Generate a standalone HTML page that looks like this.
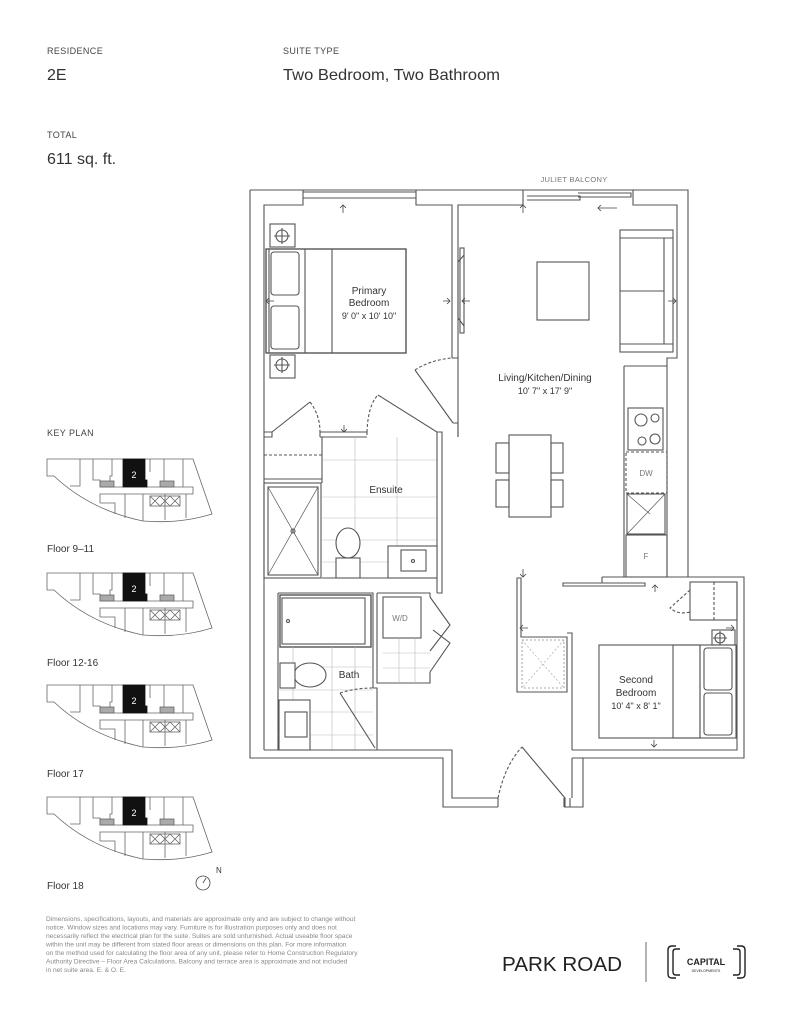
<!DOCTYPE html>
<html><head><meta charset="utf-8"><style>
html,body{margin:0;padding:0;background:#fff;}
svg{display:block;}
text{font-family:"Liberation Sans",sans-serif;}
</style></head><body>
<svg width="791" height="1024" viewBox="0 0 791 1024" xmlns="http://www.w3.org/2000/svg">
<rect width="791" height="1024" fill="#fff"/>
<!-- header -->
<g fill="#333">
<text x="47" y="54" font-size="9" letter-spacing="0.4" fill="#444">RESIDENCE</text>
<text x="47" y="80" font-size="16">2E</text>
<text x="283" y="54" font-size="9" letter-spacing="0.4" fill="#444">SUITE TYPE</text>
<text x="283" y="80" font-size="16" textLength="217" lengthAdjust="spacingAndGlyphs">Two Bedroom, Two Bathroom</text>
<text x="47" y="138" font-size="9" letter-spacing="0.4" fill="#444">TOTAL</text>
<text x="47" y="164" font-size="16">611 sq. ft.</text>
<text x="47" y="436" font-size="9" letter-spacing="0.4" fill="#444">KEY PLAN</text>
<text x="47" y="552" font-size="10">Floor 9–11</text>
<text x="47" y="666" font-size="10">Floor 12-16</text>
<text x="47" y="777" font-size="10">Floor 17</text>
<text x="47" y="889" font-size="10">Floor 18</text>
<text x="574" y="182" font-size="7.5" text-anchor="middle" fill="#777" letter-spacing="0.3">JULIET BALCONY</text>
</g>

<!-- key plans -->
<defs>
<g id="kp" fill="none" stroke="#666" stroke-width="0.8">
<path d="M47 459 L193 459 L212 514 Q180 524 143 521 Q90 510 54 476 L47 476 Z"/>
<path d="M80 459 L80 486 L70 486"/>
<path d="M93 459 L93 480 L100 480 L100 487 L193 487 L193 494 L100 494 L100 503"/>
<path d="M110 487 L110 476 L112 476 L112 459"/>
<path d="M164 459 L164 487 M183 459 L183 487 M150 459 L150 472"/>
<path d="M143 494 L143 521 M165 494 L165 520 M186 494 L186 518"/>
<path d="M125 494 L125 518 M100 503 L115 503 L115 514"/>
<rect x="150" y="496" width="30" height="10"/>
<path d="M150 496 L160 506 M160 496 L150 506 M160 496 L170 506 M170 496 L160 506 M170 496 L180 506 M180 496 L170 506"/>
<rect x="100" y="481" width="14" height="6" fill="#aaa"/>
<rect x="160" y="481" width="14" height="6" fill="#aaa"/>
<path d="M123 459 L145 459 L145 480 L147 480 L147 487 L123 487 Z" fill="#111" stroke="#111"/>
</g>
</defs>
<use href="#kp"/>
<use href="#kp" transform="translate(0,114)"/>
<use href="#kp" transform="translate(0,226)"/>
<use href="#kp" transform="translate(0,338)"/>
<g fill="#fff" font-size="9" text-anchor="middle">
<text x="134" y="478">2</text><text x="134" y="592">2</text><text x="134" y="704">2</text><text x="134" y="816">2</text>
</g>
<circle cx="203" cy="883" r="7" fill="none" stroke="#444" stroke-width="0.8"/>
<path d="M203 883 L206 878" stroke="#444" stroke-width="0.8"/>
<text x="216" y="873" font-size="8" fill="#333">N</text>

<!-- FLOOR PLAN -->
<g fill="none" stroke="#555" stroke-width="1.1">
<path d="M250 190 L688 190 L688 577 L744 577 L744 758 L583 758 L583 807 L564 807 M498 807 L443 807 L443 758 L250 758 L250 190"/>
<path d="M264 750 L264 205 L303 205 L303 190 M416 190 L416 205 L452 205 L452 358"/>
<path d="M458 437 L458 205 L523 205 L523 190 M633 190 L633 205 L677 205 L677 358 L667 358 L667 577"/>
<path d="M303 192 L416 192 M303 198 L416 198"/>
<path d="M527 196 L580 196 L580 200 L527 200 M578 193 L631 193 L631 197 L578 197"/>
<path d="M415 370 L453 423 M453 423 L458 423 L458 437 M452 358 L458 358"/>
<path d="M415 370 Q430 360 452 358" stroke-dasharray="3,2"/>
<rect x="460" y="248" width="4" height="85"/>
<path d="M464 255 L458 262 L458 318 L464 326"/>
<rect x="266" y="249" width="140" height="104" stroke-width="1.4"/>
<path d="M305 249 L305 353 M332 249 L332 353 M269 249 L269 353"/>
<rect x="271" y="252" width="28" height="43" rx="3"/>
<rect x="271" y="306" width="28" height="43" rx="3"/>
<rect x="270" y="224" width="25" height="23"/>
<circle cx="282" cy="236" r="6"/><path d="M274 236 L290 236 M282 228 L282 244"/>
<rect x="270" y="355" width="25" height="23"/>
<circle cx="282" cy="365" r="6"/><path d="M274 365 L290 365 M282 357 L282 373"/>
<path d="M264 432 L272 432 L272 437 L264 437"/>
<path d="M272 432 L310 402"/>
<path d="M310 402 Q320 415 320 432" stroke-dasharray="3,2"/>
<path d="M320 432 L367 432 M320 437 L367 437 M320 432 L320 437"/>
<path d="M367 432 L367 437 M367 432 Q368 405 378 395" stroke-dasharray="3,2"/>
<path d="M378 395 L437 432 L437 437"/>
<path d="M437 432 L442 432 L442 437"/>
<path d="M264 455 L322 455" stroke-dasharray="3,2"/>
<path d="M264 479 L322 479 L322 437 M322 479 L322 483"/>
<rect x="264" y="483" width="57" height="95"/>
<rect x="268" y="487" width="50" height="88"/>
<path d="M268 487 L318 575 M318 487 L268 575" stroke-width="0.7"/>
<circle cx="293" cy="531" r="2"/>
<g stroke="#bbb" stroke-width="0.6">
<path d="M355 437 L355 578 M397 437 L397 546 M322 460 L437 460 M322 497 L437 497 M322 518 L437 518 M322 540 L437 540 M322 562 L388 562"/>
</g>
<path d="M437 437 L437 593 M442 437 L442 593 L437 593"/>
<path d="M322 578 L437 578"/>
<ellipse cx="348" cy="543" rx="12" ry="15" fill="#fff"/>
<rect x="336" y="558" width="24" height="20" fill="#fff"/>
<rect x="388" y="546" width="49" height="32" fill="#fff"/>
<rect x="401" y="550" width="25" height="21"/>
<circle cx="413" cy="561" r="1.5"/>
<path d="M278 593 L373 593 L373 688 M278 593 L278 750"/>
<rect x="280" y="595" width="91" height="52" stroke-width="1.4"/>
<rect x="282" y="598" width="83" height="46"/>
<circle cx="288" cy="621" r="1.5"/>
<g stroke="#bbb" stroke-width="0.6">
<path d="M293 647 L293 750 M332 647 L332 750 M355 647 L355 750 M278 667 L373 667 M278 690 L373 690 M278 712 L373 712 M278 735 L373 735"/>
</g>
<ellipse cx="310" cy="675" rx="16" ry="12" fill="#fff"/>
<rect x="280" y="663" width="15" height="25" fill="#fff"/>
<rect x="279" y="700" width="31" height="50" fill="#fff"/>
<rect x="285" y="712" width="22" height="25"/>
<path d="M373 688 L377 688 L377 750 M373 750 L377 750"/>
<path d="M340 693 L375 748"/>
<path d="M340 693 Q355 688 373 688" stroke-dasharray="3,2"/>
<path d="M264 750 L452 750 L452 798 L498 798 M498 798 L498 807"/>
<path d="M377 593 L377 683 L430 683 L430 672 M377 593 L430 593 L430 597"/>
<rect x="383" y="597" width="38" height="41"/>
<g stroke="#bbb" stroke-width="0.6"><path d="M383 653 L430 653 M399 638 L399 683 M415 638 L415 683 M383 668 L430 668"/></g>
<path d="M430 597 L450 625 L430 651 M430 672 L450 643 L433 630"/>
<path d="M522 747 L565 798 L565 807 L570 807 L570 798 M564 807 L564 798"/>
<path d="M498 798 Q505 765 522 747" stroke-dasharray="3,2"/>
<path d="M572 798 L572 758 M572 750 L737 750 L737 583 M572 750 L572 633 L567 633 M583 758 L572 758"/>
<path d="M517 578 L517 692 L567 692 L567 637 L521 637 L521 578 Z"/>
<rect x="522" y="640" width="42" height="48" stroke="#aaa" stroke-dasharray="2,2"/>
<path d="M522 640 L564 688 M564 640 L522 688" stroke="#aaa" stroke-dasharray="2,2" stroke-width="0.7"/>
<path d="M563 583 L645 583 L645 586 L563 586 Z"/>
<path d="M602 577 L688 577 M602 577 L602 583"/>
<rect x="690" y="582" width="47" height="38"/>
<path d="M690 590 L670 608 Q678 615 690 612" stroke-dasharray="3,2"/>
<path d="M714 582 L714 620" stroke-dasharray="3,2"/>
<rect x="599" y="645" width="101" height="93"/>
<rect x="673" y="645" width="63" height="93"/>
<path d="M700 645 L700 738"/>
<rect x="704" y="648" width="28" height="42" rx="3"/>
<rect x="704" y="693" width="28" height="42" rx="3"/>
<rect x="712" y="630" width="23" height="15"/>
<circle cx="720" cy="638" r="5"/><path d="M713 638 L727 638 M720 631 L720 645"/>
<path d="M624 366 L667 366 M624 366 L624 577 L667 577"/>
<rect x="628" y="408" width="35" height="42"/>
<circle cx="641" cy="420" r="6"/><circle cx="655" cy="418" r="4"/><circle cx="642" cy="441" r="4"/><circle cx="655" cy="439" r="5"/>
<rect x="626" y="452" width="41" height="41" stroke-dasharray="3,2"/>
<rect x="627" y="494" width="38" height="40"/>
<path d="M627 534 L665 494 M627 494 L650 514" stroke-width="0.7"/>
<rect x="626" y="535" width="41" height="42"/>
<rect x="620" y="230" width="53" height="122"/>
<path d="M620 238 L673 238 M620 344 L673 344 M664 238 L664 344 M620 291 L664 291"/>
<rect x="537" y="262" width="52" height="58"/>
<rect x="509" y="435" width="42" height="82"/>
<rect x="496" y="443" width="13" height="30"/><rect x="496" y="480" width="13" height="27"/>
<rect x="551" y="443" width="12" height="30"/><rect x="551" y="480" width="12" height="27"/>
</g>
<g stroke="#444" stroke-width="0.8" fill="none">
<path d="M343 213 L343 205 M340 208 L343 205 L346 208"/>
<path d="M523 213 L523 205 M520 208 L523 205 L526 208"/>
<path d="M617 208 L598 208 M601 205 L598 208 L601 211"/>
<path d="M443 301 L450 301 M447 298 L450 301 L447 304"/>
<path d="M470 301 L462 301 M465 298 L462 301 L465 304"/>
<path d="M274 301 L266 301 M269 298 L266 301 L269 304"/>
<path d="M668 301 L676 301 M673 298 L676 301 L673 304"/>
<path d="M344 425 L344 432 M341 429 L344 432 L347 429"/>
<path d="M523 569 L523 577 M520 574 L523 577 L526 574"/>
<path d="M528 628 L520 628 M523 625 L520 628 L523 631"/>
<path d="M655 592 L655 585 M652 588 L655 585 L658 588"/>
<path d="M654 740 L654 747 M651 744 L654 747 L657 744"/>
<path d="M726 628 L734 628 M731 625 L734 628 L731 631"/>
</g>
<g fill="#333" text-anchor="middle" font-size="10">
<text x="369" y="294">Primary</text>
<text x="369" y="306">Bedroom</text>
<text x="369" y="319" font-size="9">9' 0" x 10' 10"</text>
<text x="545" y="381">Living/Kitchen/Dining</text>
<text x="545" y="394" font-size="9">10' 7" x 17' 9"</text>
<text x="386" y="493">Ensuite</text>
<text x="349" y="678">Bath</text>
<text x="636" y="683">Second</text>
<text x="636" y="696">Bedroom</text>
<text x="636" y="709" font-size="9">10' 4" x 8' 1"</text>
<text x="400" y="621" font-size="8" fill="#777">W/D</text>
<text x="646" y="476" font-size="8" fill="#777">DW</text>
<text x="646" y="559" font-size="8" fill="#777">F</text>
</g>

<g fill="#888" font-size="6.6">
<text x="46" y="921">Dimensions, specifications, layouts, and materials are approximate only and are subject to change without</text>
<text x="46" y="929.5">notice. Window sizes and locations may vary. Furniture is for illustration purposes only and does not</text>
<text x="46" y="938">necessarily reflect the electrical plan for the suite. Suites are sold unfurnished. Actual useable floor space</text>
<text x="46" y="946.5">within the unit may be different from stated floor areas or dimensions on this plan. For more information</text>
<text x="46" y="955">on the method used for calculating the floor area of any unit, please refer to Home Construction Regulatory</text>
<text x="46" y="963.5">Authority Directive – Floor Area Calculations. Balcony and terrace area is approximate and not included</text>
<text x="46" y="972">in net suite area. E. &amp; O. E.</text>
</g>
<text x="502" y="971" font-size="20" fill="#222" textLength="120" lengthAdjust="spacingAndGlyphs">PARK ROAD</text>
<path d="M646 942 L646 982" stroke="#444" stroke-width="0.8"/>
<g fill="none" stroke="#222" stroke-width="1.4">
<path d="M676 946 L672 946 Q668 946 668 950 L668 974 Q668 978 672 978 L676 978"/>
<path d="M680 949 L676 949 Q673 949 673 952 L673 972 Q673 975 676 975 L680 975"/>
<path d="M737 946 L741 946 Q745 946 745 950 L745 974 Q745 978 741 978 L737 978"/>
<path d="M733 949 L737 949 Q740 949 740 952 L740 972 Q740 975 737 975 L733 975"/>
</g>
<text x="706" y="965" font-size="9" font-weight="bold" fill="#222" text-anchor="middle">CAPITAL</text>
<text x="706" y="972" font-size="3.5" fill="#222" text-anchor="middle">DEVELOPMENTS</text>
</svg>
</body></html>
